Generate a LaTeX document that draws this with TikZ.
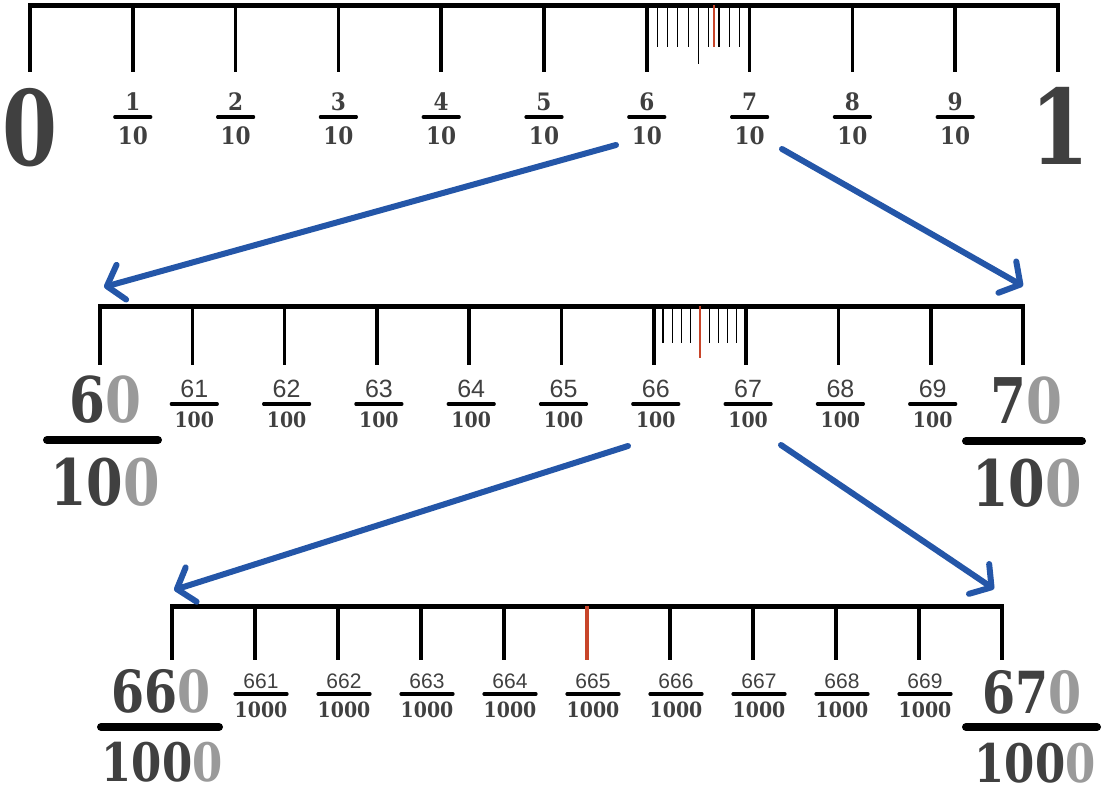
\documentclass[tikz,border=0pt]{standalone}
\usepackage{fontspec}
\usetikzlibrary{arrows.meta}
\newfontfamily\slab[FakeStretch=0.9]{DejaVu Serif}
\newfontfamily\slabw[FakeStretch=0.82]{DejaVu Serif}
\newfontfamily\slabz[FakeStretch=0.76]{DejaVu Serif}
\newfontfamily\numsans{Liberation Sans}
\definecolor{dk}{HTML}{404040}
\definecolor{lt}{HTML}{9A9A9A}
\definecolor{arr}{HTML}{2456A8}
\definecolor{rd}{HTML}{C8452A}
\newcommand{\fs}[1]{\fontsize{#1}{#1}\selectfont}
\begin{document}
\begin{tikzpicture}[x=1pt,y=-1pt,
 axis/.style={line width=5pt},
 bigtick/.style={line width=3.6pt},
 smalltick/.style={line width=1.2pt},
 redtick/.style={line width=1.8pt, draw=rd},
 fbar/.style={line width=3.2pt, line cap=round},
 bigbar/.style={line width=8pt, line cap=round},
 bluearrow/.style={draw=arr, line width=6pt, line cap=round, -{Straight Barb[length=15pt,width=36pt,round]}},
 lab/.style={inner sep=0pt, text=dk},
]
\useasboundingbox (0,0) rectangle (1103,795);
% ---------- top row ----------
\coordinate (T0) at (30,5);
\coordinate (T10) at (1058,5);
\draw[axis] ([xshift=-1.8pt]T0) -- ([xshift=1.8pt]T10);
\foreach \k in {0,...,10} {
  \draw[bigtick] ({30+102.8*\k},5) -- ({30+102.8*\k},72);
}
\foreach \j in {1,2,3,4,6,7,8,9} {
  \draw[smalltick] ({647+10.28*\j},5) -- ({647+10.28*\j},47);
}
\draw[smalltick] ({647+10.28*5},5) -- ({647+10.28*5},64);
\draw[redtick] ({647+10.28*6.5},5) -- ({647+10.28*6.5},47);
\node[lab, font=\slabz\bfseries\fs{104}] (zero) at (30,128) {0};
\node[lab, font=\slabw\bfseries\fs{104}] (one) at (1060,126) {1};
\foreach \k in {1,...,9} {
  \node[lab, font=\slab\bfseries\fs{24}] (tn\k) at ({30+102.8*\k},102) {\k};
  \draw[fbar] ({30+102.8*\k-18},117) -- ({30+102.8*\k+18},117);
  \node[lab, font=\slab\bfseries\fs{24}] (td\k) at ({30+102.8*\k},136) {10};
}
% ---------- middle row ----------
\draw[axis] (98.2,306) -- (1024.8,306);
\foreach \k in {0,...,10} {
  \draw[bigtick] ({100+92.3*\k},306) -- ({100+92.3*\k},365);
}
\foreach \j in {1,2,3,4,6,7,8,9} {
  \draw[smalltick] ({653.8+9.23*\j},306) -- ({653.8+9.23*\j},343);
}
\draw[redtick] ({653.8+9.23*5},306) -- ({653.8+9.23*5},358);
\foreach \k in {1,...,9} {
  \pgfmathtruncatemacro{\n}{60+\k}
  \node[lab, font=\numsans\fs{25}] (mn\k) at ({100+92.3*\k+2},389) {\n};
  \draw[fbar] ({100+92.3*\k+2-23},404) -- ({100+92.3*\k+2+23},404);
  \node[lab, font=\slab\bfseries\fs{21}] (md\k) at ({100+92.3*\k+2},420) {100};
}
\node[lab, font=\slabw\bfseries\fs{63}] (m60) at (105,400) {6\textcolor{lt}{0}};
\draw[bigbar] (47,440) -- (158,440);
\node[lab, font=\slabw\bfseries\fs{64}] (m60d) at (105,482) {10\textcolor{lt}{0}};
\node[lab, font=\slabw\bfseries\fs{63}] (m70) at (1026,401) {7\textcolor{lt}{0}};
\draw[bigbar] (966,441) -- (1082,441);
\node[lab, font=\slabw\bfseries\fs{64}] (m70d) at (1027,483) {10\textcolor{lt}{0}};
% ---------- bottom row ----------
\draw[axis] (170.2,606) -- (1003.8,606);
\foreach \k in {0,1,2,3,4,6,7,8,9,10} {
  \draw[bigtick] ({172+83*\k},606) -- ({172+83*\k},660);
}
\draw[bigtick, draw=rd] (587,606) -- (587,660);
\foreach \k in {1,...,9} {
  \pgfmathtruncatemacro{\n}{660+\k}
  \node[lab, font=\numsans\fs{21}] (bn\k) at ({172+83*\k+6},681) {\n};
  \draw[fbar] ({172+83*\k+6-26},694) -- ({172+83*\k+6+26},694);
  \node[lab, font=\slab\bfseries\fs{21}] (bd\k) at ({172+83*\k+6},710) {1000};
}
\node[lab, font=\slabw\bfseries\fs{58}] (b660) at (161,691) {66\textcolor{lt}{0}};
\draw[bigbar] (101,727) -- (219,727);
\node[lab, font=\slabw\bfseries\fs{53}] (b660d) at (162,762) {100\textcolor{lt}{0}};
\node[lab, font=\slabw\bfseries\fs{58}] (b670) at (1032,692) {67\textcolor{lt}{0}};
\draw[bigbar] (966,727) -- (1097,727);
\node[lab, font=\slabw\bfseries\fs{53}] (b670d) at (1035,763) {100\textcolor{lt}{0}};
% ---------- arrows ----------
\coordinate (a1s) at (616,145);
\coordinate (a1e) at (104,287);
\coordinate (a2s) at (782,149);
\coordinate (a2e) at (1023,286);
\coordinate (a3s) at (628,446);
\coordinate (a3e) at (174,590);
\coordinate (a4s) at (781,445);
\coordinate (a4e) at (994,589);
\draw[bluearrow] (a1s) -- (a1e);
\draw[bluearrow] (a2s) -- (a2e);
\draw[bluearrow] (a3s) -- (a3e);
\draw[bluearrow] (a4s) -- (a4e);
\end{tikzpicture}
\end{document}
